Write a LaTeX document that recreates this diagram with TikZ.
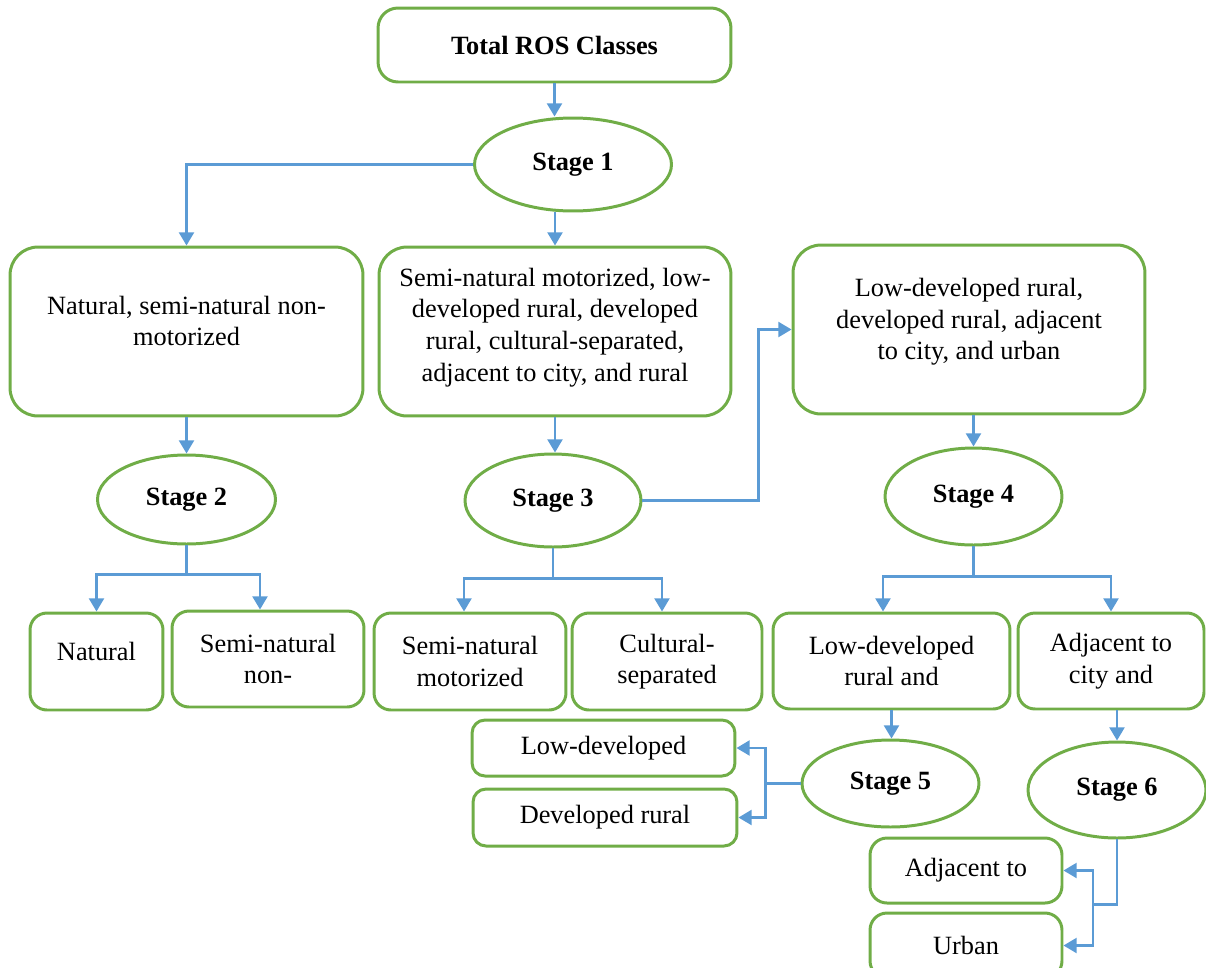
\documentclass[tikz,border=0pt]{standalone}
\usepackage{fontspec}
\setmainfont{Liberation Serif}
\usetikzlibrary{arrows.meta,shapes.geometric}
\definecolor{boxgreen}{RGB}{112,173,71}
\definecolor{arrowblue}{RGB}{91,155,213}

\begin{document}
\begin{tikzpicture}[x=0.02cm,y=-0.02cm,
  box/.style={draw=boxgreen,line width=1.7pt,rounded corners=0.56cm,align=center,font=\fontsize{15}{18}\selectfont},
  smallbox/.style={box,rounded corners=0.34cm},
  stage/.style={ellipse,draw=boxgreen,line width=1.7pt,inner sep=0pt,font=\fontsize{15}{18}\selectfont\bfseries},
  link/.style={draw=arrowblue,line width=1.4pt},
  flow/.style={link,-{Triangle[length=7.5pt,width=8.5pt]}}]
  \useasboundingbox (0,0) rectangle (1206,967);

  \node[box,rounded corners=0.4cm,font=\fontsize{15}{18}\selectfont\bfseries,minimum width=7.06cm,minimum height=1.48cm] (total) at (554.5,45) {Total ROS Classes};
  \node[stage,minimum width=3.94cm,minimum height=1.86cm] (st1) at (573,164.5) {Stage 1};

  \node[box,minimum width=7.06cm,minimum height=3.38cm] (nat) at (186.5,331.5) {Natural, semi-natural non-\\motorized\\[-6pt]\mbox{}};
  \node[box,minimum width=7.04cm,minimum height=3.38cm] (mot) at (555,331.5) {Semi-natural motorized, low-\\developed rural, developed\\rural, cultural-separated,\\adjacent to city, and rural\\[-10pt]\mbox{}};
  \node[box,minimum width=7.04cm,minimum height=3.38cm] (dev) at (969,329.5) {Low-developed rural,\\developed rural, adjacent\\to city, and urban\\[-6pt]\mbox{}};

  \node[stage,minimum width=3.56cm,minimum height=1.78cm] (st2) at (186.5,499.5) {Stage 2};
  \node[stage,minimum width=3.52cm,minimum height=1.86cm] (st3) at (553,500.5) {Stage 3};
  \node[stage,minimum width=3.54cm,minimum height=1.94cm] (st4) at (973.5,496.5) {Stage 4};

  \node[smallbox,minimum width=2.66cm,minimum height=1.94cm] (natural) at (96.5,661.5) {Natural\\[-6pt]\mbox{}};
  \node[smallbox,minimum width=3.84cm,minimum height=1.92cm] (seminm) at (268,659) {Semi-natural\\non-};
  \node[smallbox,minimum width=3.84cm,minimum height=1.94cm] (semim) at (470,661.5) {Semi-natural\\motorized};
  \node[smallbox,minimum width=3.8cm,minimum height=1.94cm] (cult) at (667,661.5) {Cultural-\\separated};
  \node[smallbox,minimum width=4.74cm,minimum height=1.92cm] (lowand) at (891.5,661) {Low-developed\\rural and};
  \node[smallbox,minimum width=3.72cm,minimum height=1.92cm] (adjand) at (1111,661) {Adjacent to\\city and};

  \node[stage,minimum width=3.54cm,minimum height=1.74cm] (st5) at (890.5,783.5) {Stage 5};
  \node[stage,minimum width=3.56cm,minimum height=1.92cm] (st6) at (1117,790) {Stage 6};

  \node[smallbox,rounded corners=0.26cm,minimum width=5.26cm,minimum height=1.12cm] (lowdev) at (603.5,748) {Low-developed};
  \node[smallbox,rounded corners=0.26cm,minimum width=5.28cm,minimum height=1.14cm] (devrur) at (605,817.5) {Developed rural};
  \node[smallbox,minimum width=3.84cm,minimum height=1.3cm] (adjto) at (966,870.5) {Adjacent to};
  \node[smallbox,minimum width=3.84cm,minimum height=1.3cm] (urban) at (966,945.5) {Urban};

  \draw[flow] (total.south) -- (total.south |- st1.north);
  \draw[flow] (st1.west) -| (nat.north);
  \draw[flow] (mot.north |- st1.south) -- (mot.north);
  \draw[flow] (nat.south) -- (st2.north);
  \draw[flow] (mot.south) -- (mot.south |- st3.north);
  \draw[flow] (st3.east) -- ++(116,0) |- (dev.west);
  \draw[flow] (st4.north |- dev.south) -- (st4.north);

  \draw[link] (st2.south) -- ++(0,29) coordinate (j2);
  \draw[flow] (j2) -| (natural.north);
  \draw[flow] (j2) -| ([xshift=-0.16cm]seminm.north);
  \draw[link] (st3.south) -- ++(0,30) coordinate (j3);
  \draw[flow] (j3) -| ([xshift=-0.12cm]semim.north);
  \draw[flow] (j3) -| ([xshift=-0.1cm]cult.north);
  \draw[link] (st4.south) -- ++(0,30) coordinate (j4);
  \draw[flow] (j4) -| ([xshift=-0.17cm]lowand.north);
  \draw[flow] (j4) -| (adjand.north);

  \draw[flow] (lowand.south) -- (lowand.south |- st5.north);
  \draw[flow] (st6.north |- adjand.south) -- (st6.north);

  \draw[link] (st5.west) -- ++(-35,0) coordinate (j5);
  \draw[flow] (j5) |- (lowdev.east);
  \draw[flow] (j5) |- (devrur.east);
  \draw[link] (st6.south) -- ++(0,65) -- ++(-24,0) coordinate (j6);
  \draw[flow] (j6) |- (adjto.east);
  \draw[flow] (j6) |- (urban.east);
\end{tikzpicture}
\end{document}
